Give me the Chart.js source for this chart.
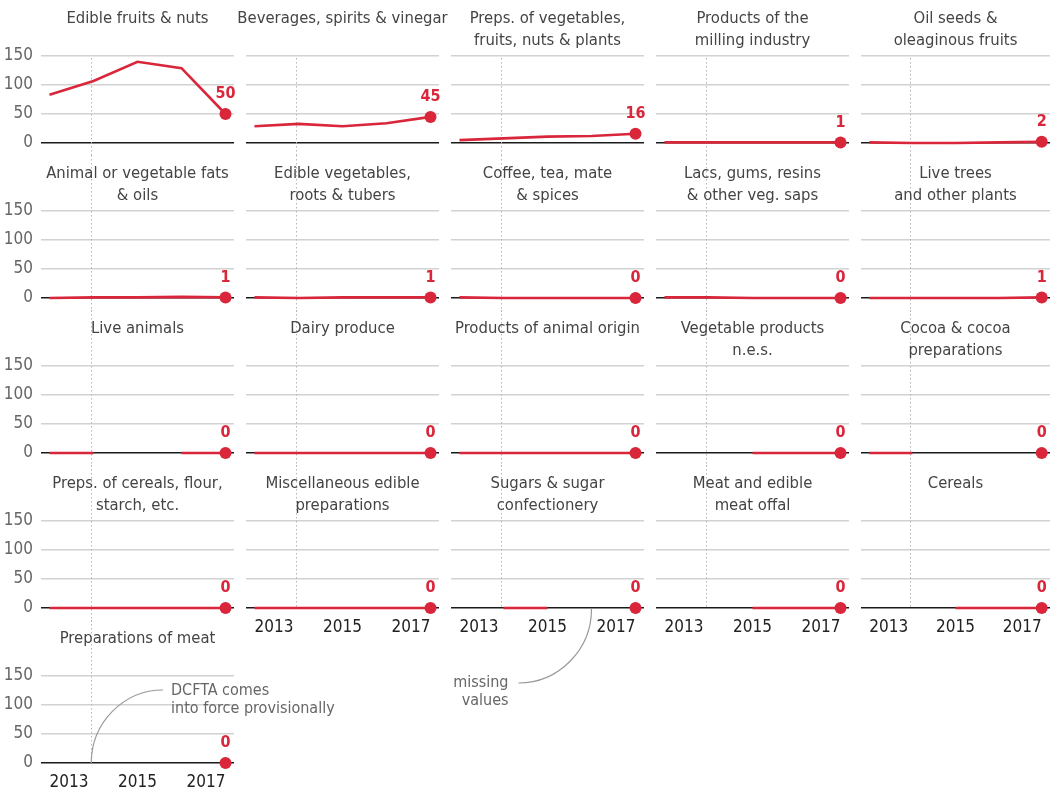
<!DOCTYPE html>
<html><head><meta charset="utf-8">
<script src="https://cdn.jsdelivr.net/npm/chart.js@4.4.1/dist/chart.umd.min.js"></script>
<style>
html,body{margin:0;padding:0;background:#fff;width:1056px;height:796px;overflow:hidden;position:relative}
canvas{position:absolute}
</style></head><body>
<script>
// ---- data ----
const years = [2013, 2014, 2015, 2016, 2017];
const xTickYears = [2013, 2015, 2017];
const yTickValues = [0, 50, 100, 150];
const dcftaYear = 2013.95;

const titles = [
  ['Edible fruits & nuts'],
  ['Beverages, spirits & vinegar'],
  ['Preps. of vegetables,', 'fruits, nuts & plants'],
  ['Products of the', 'milling industry'],
  ['Oil seeds &', 'oleaginous fruits'],
  ['Animal or vegetable fats', '& oils'],
  ['Edible vegetables,', 'roots & tubers'],
  ['Coffee, tea, mate', '& spices'],
  ['Lacs, gums, resins', '& other veg. saps'],
  ['Live trees', 'and other plants'],
  ['Live animals'],
  ['Dairy produce'],
  ['Products of animal origin'],
  ['Vegetable products', 'n.e.s.'],
  ['Cocoa & cocoa', 'preparations'],
  ['Preps. of cereals, flour,', 'starch, etc.'],
  ['Miscellaneous edible', 'preparations'],
  ['Sugars & sugar', 'confectionery'],
  ['Meat and edible', 'meat offal'],
  ['Cereals'],
  ['Preparations of meat']
];

const edibleFruitsNuts   = [83, 107, 140, 129, 50];
const beverages          = [29, 33, 29, 34, 45];
const prepsVegetables    = [5, 8, 11, 12, 16];
const millingProducts    = [1, 1, 1, 1, 1];
const oilSeeds           = [1, 0, 0, 1, 2];
const fatsOils           = [0, 1, 1, 2, 1];
const edibleVegetables   = [1, 0, 1, 1, 1];
const coffeeTea          = [1, 0, 0, 0, 0];
const lacsGums           = [1, 1, 0, 0, 0];
const liveTrees          = [0, 0, 0, 0, 1];
const liveAnimals        = [0, 0, null, 0, 0];
const dairyProduce       = [0, 0, 0, 0, 0];
const animalOrigin       = [0, 0, 0, 0, 0];
const vegetableNes       = [null, null, 0, 0, 0];
const cocoa              = [0, 0, null, null, 0];
const prepsCereals       = [0, 0, 0, 0, 0];
const miscEdible         = [0, 0, 0, 0, 0];
const sugars             = [null, 0, 0, null, 0];
const meatOffal          = [null, null, 0, 0, 0];
const cereals            = [null, null, 0, 0, 0];
const prepsMeat          = [null, null, null, null, 0];

const seriesList = [edibleFruitsNuts, beverages, prepsVegetables, millingProducts, oilSeeds,
  fatsOils, edibleVegetables, coffeeTea, lacsGums, liveTrees,
  liveAnimals, dairyProduce, animalOrigin, vegetableNes, cocoa,
  prepsCereals, miscEdible, sugars, meatOffal, cereals, prepsMeat];

// ---- styling ----
const FONT = "'Liberation Sans Narrow', 'DejaVu Sans Condensed', 'Roboto', sans-serif";
const RED = '#d9263b';
const PLOT_W = 193, PLOT_H = 87, LEFT = 41, COL_STEP = 205, ROW_STEP = 155, TOP0 = 56;

const panelPlugin = {
  id: 'panel',
  beforeDatasetsDraw(chart, args, o) {
    const {ctx, chartArea: a, scales: {x}} = chart;
    const px = Math.round(x.getPixelForValue(dcftaYear)) + 0.5;
    ctx.save();
    ctx.strokeStyle = '#b5b5b5'; ctx.lineWidth = 1; ctx.setLineDash([1.5, 2.5]);
    ctx.beginPath();
    ctx.moveTo(px, o.firstRow ? a.top + 2 : a.top - TOP0);
    ctx.lineTo(px, o.showX ? a.bottom : a.bottom + 14);
    ctx.stroke();
    ctx.restore();
  },
  afterDatasetsDraw(chart, args, o) {
    const {ctx, chartArea: a} = chart;
    ctx.save();
    // title
    ctx.fillStyle = '#444'; ctx.font = '16.5px ' + FONT;
    ctx.textAlign = 'center'; ctx.textBaseline = 'middle';
    const cx = (a.left + a.right) / 2;
    o.title.forEach((t, k) => ctx.fillText(t, cx, a.top - 37 + k * 21.5));
    // value label
    const meta = chart.getDatasetMeta(0);
    const vals = chart.data.datasets[0].data;
    const last = meta.data[meta.data.length - 1];
    const v = vals[vals.length - 1].y;
    ctx.fillStyle = RED; ctx.font = 'bold 16px ' + FONT;
    ctx.fillText(String(Math.round(v)), last.x, last.y - 20);
    // annotations
    const x = chart.scales.x;
    ctx.strokeStyle = '#9a9a9a'; ctx.lineWidth = 1.2; ctx.fillStyle = '#666';
    ctx.font = '16px ' + FONT;
    if (o.annot === 'dcfta') {
      const sx = x.getPixelForValue(dcftaYear), sy = a.bottom;
      const ex = a.left + 122, ey = a.top + 14;
      ctx.beginPath(); ctx.moveTo(sx, sy);
      ctx.bezierCurveTo(sx, sy - 0.55 * (sy - ey), ex - 0.55 * (ex - sx), ey, ex, ey);
      ctx.stroke();
      ctx.textAlign = 'left';
      ctx.fillText('DCFTA comes', a.left + 130, a.top + 15);
      ctx.fillText('into force provisionally', a.left + 130, a.top + 33);
    } else if (o.annot === 'missing') {
      const sx = x.getPixelForValue(2016), sy = a.bottom + 1;
      const ex = sx - 73, ey = a.bottom + 75;
      ctx.beginPath(); ctx.moveTo(sx, sy);
      ctx.bezierCurveTo(sx, sy + 0.55 * (ey - sy), ex + 0.55 * (sx - ex), ey, ex, ey);
      ctx.stroke();
      ctx.textAlign = 'right';
      ctx.fillText('missing', sx - 83, a.bottom + 75);
      ctx.fillText('values', sx - 83, a.bottom + 93);
    }
    ctx.restore();
  }
};

seriesList.forEach((vals, i) => {
  const row = Math.floor(i / 5), col = i % 5;
  const plotLeft = LEFT + col * COL_STEP, plotTop = TOP0 + row * ROW_STEP;
  const showX = (row === 3 && col > 0) || row === 4;
  const padRight = i === 20 ? 130 : Math.min(12, 1056 - (plotLeft + PLOT_W));
  const xAxisH = showX ? 30 : 0;
  const extraBottom = i === 17 ? 112 : (showX ? 32 : 16);
  const cw = LEFT + PLOT_W + padRight, ch = TOP0 + PLOT_H + extraBottom;
  const cv = document.createElement('canvas');
  cv.width = cw; cv.height = ch;
  cv.style.width = cw + 'px'; cv.style.height = ch + 'px';
  cv.style.left = (plotLeft - LEFT) + 'px'; cv.style.top = (plotTop - TOP0) + 'px';
  document.body.appendChild(cv);

  new Chart(cv, {
    type: 'line',
    data: {
      datasets: [{
        data: years.map((yr, k) => ({x: yr, y: vals[k]})),
        borderColor: RED, backgroundColor: RED, borderWidth: 2.6,
        pointRadius: years.map((yr, k) => k === years.length - 1 ? 6 : 0),
        pointBorderWidth: 0, pointHoverRadius: 0,
        spanGaps: false, clip: false, tension: 0
      }]
    },
    options: {
      responsive: false, animation: false, devicePixelRatio: 1, events: [],
      layout: {padding: {left: 0, right: padRight, top: TOP0, bottom: extraBottom - xAxisH}},
      plugins: {
        legend: {display: false}, tooltip: {enabled: false}, title: {display: false},
        panel: {title: titles[i], showX, firstRow: row === 0,
                annot: i === 20 ? 'dcfta' : (i === 17 ? 'missing' : null)}
      },
      scales: {
        x: {
          type: 'linear', min: 2012.807, max: 2017.193,
          afterBuildTicks: s => { s.ticks = xTickYears.map(v => ({value: v})); },
          afterFit: s => { s.height = xAxisH; s.paddingLeft = 0; s.paddingRight = 0; },
          grid: {display: false, drawTicks: false}, border: {display: false},
          ticks: {display: showX, autoSkip: false, maxRotation: 0, align: 'inner', padding: 9,
                  color: '#222', font: {family: FONT, size: 17}, callback: v => String(v)}
        },
        y: {
          min: 0, max: 150,
          afterBuildTicks: s => { s.ticks = yTickValues.map(v => ({value: v})); },
          afterFit: s => { s.width = LEFT; s.paddingTop = 0; s.paddingBottom = 0; },
          grid: {drawTicks: false,
                 color: c => c.tick && c.tick.value === 0 ? '#1a1a1a' : '#d2d2d2',
                 lineWidth: 1.6},
          border: {display: false},
          ticks: {display: col === 0, padding: 8, color: '#666', font: {family: FONT, size: 17},
                  callback: v => String(v)}
        }
      }
    },
    plugins: [panelPlugin]
  });
});
</script>
</body></html>
